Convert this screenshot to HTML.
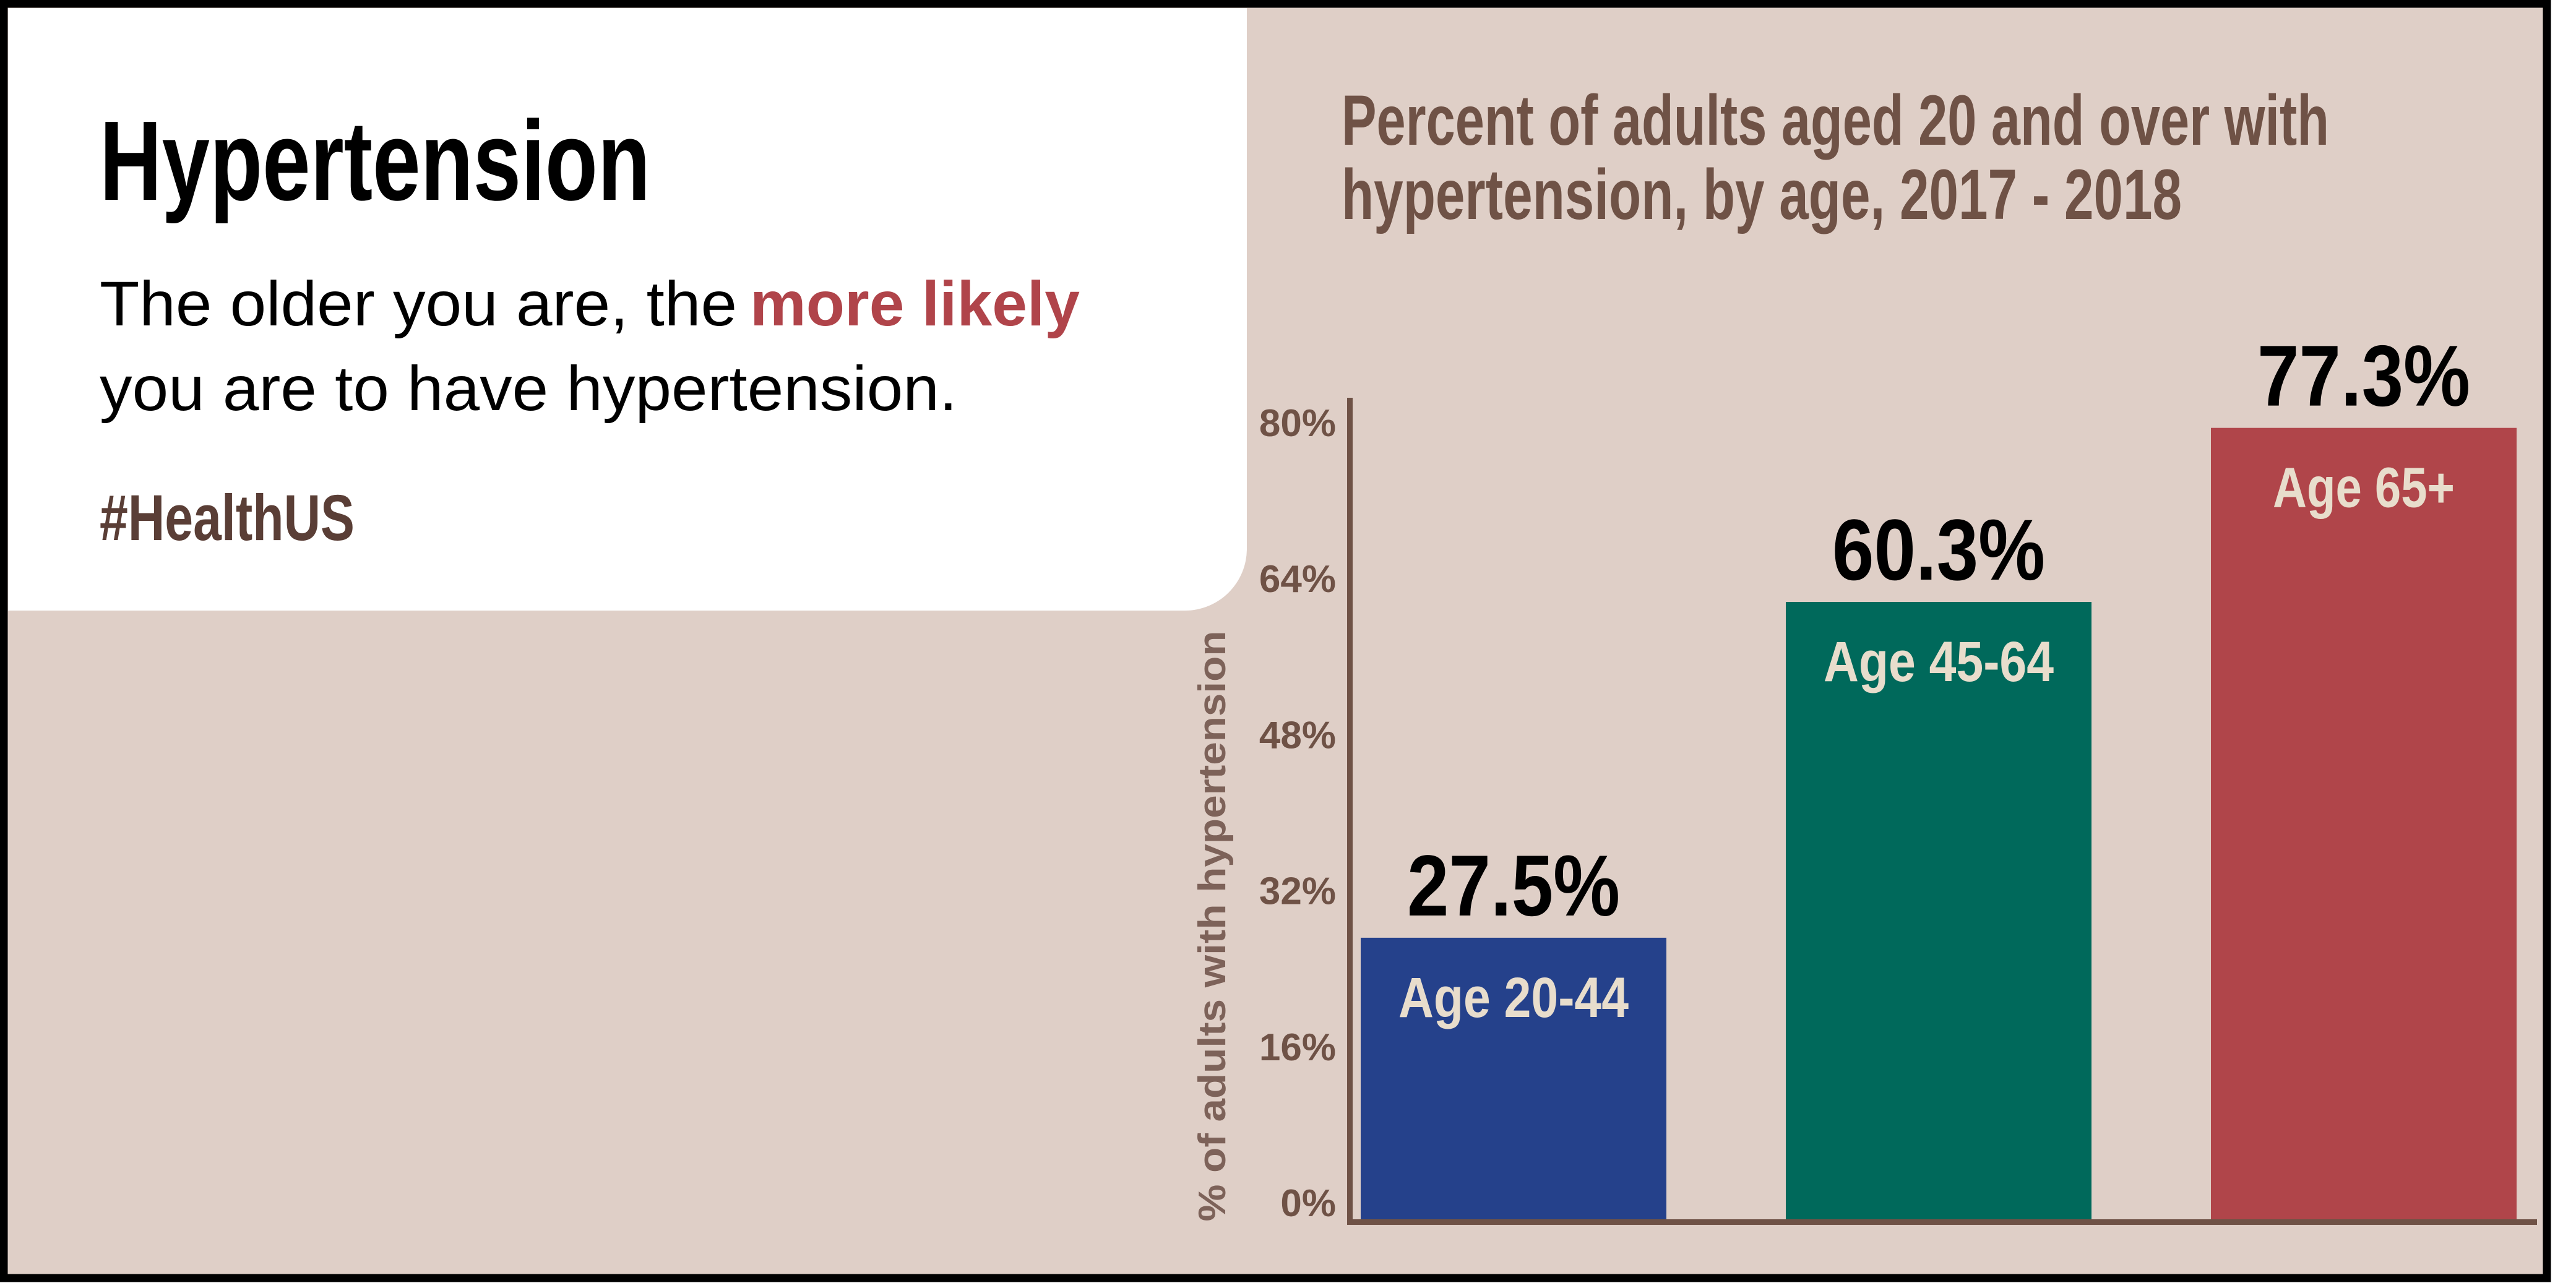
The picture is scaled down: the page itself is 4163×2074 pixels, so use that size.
<!DOCTYPE html>
<html><head><meta charset="utf-8"><style>
html,body{margin:0;padding:0;background:#fff}
svg{display:block}
text{font-family:"Liberation Sans",sans-serif}
</style></head><body>
<svg id="s" width="4163" height="2074" viewBox="0 0 4163 2074" xmlns="http://www.w3.org/2000/svg">
<rect x="0" y="0" width="4163" height="2074" fill="#fff"/>
<rect x="6" y="6" width="4110" height="2060" fill="#dfcfc7" stroke="#000" stroke-width="13"/>
<path d="M13 13 H2015 V887 A100 100 0 0 1 1915 987 H13 Z" fill="#fff"/>
<text x="161" y="323" font-size="183" font-weight="bold" fill="#000" textLength="890" lengthAdjust="spacingAndGlyphs">Hypertension</text>
<text x="161" y="526" font-size="102" fill="#000" textLength="1030" lengthAdjust="spacingAndGlyphs">The older you are, the</text>
<text x="1212" y="526" font-size="102" font-weight="bold" fill="#b0444a" textLength="533" lengthAdjust="spacingAndGlyphs">more likely</text>
<text x="161" y="663" font-size="102" fill="#000" textLength="1386" lengthAdjust="spacingAndGlyphs">you are to have hypertension.</text>
<text x="161" y="873" font-size="105" font-weight="bold" fill="#5a3e36" textLength="412" lengthAdjust="spacingAndGlyphs">#HealthUS</text>
<text x="2168" y="234" font-size="115" font-weight="bold" fill="#6f5246" textLength="1596" lengthAdjust="spacingAndGlyphs">Percent of adults aged 20 and over with</text>
<text x="2168" y="354" font-size="115" font-weight="bold" fill="#6f5246" textLength="1358" lengthAdjust="spacingAndGlyphs">hypertension, by age, 2017 - 2018</text>
<text transform="translate(1980,1497) rotate(-90)" text-anchor="middle" font-size="62" font-weight="bold" fill="#7d6259" textLength="955" lengthAdjust="spacingAndGlyphs">% of adults with hypertension</text>
<g id="chart"></g>
</svg>
<script>
const categories = ["Age 20-44", "Age 45-64", "Age 65+"];
const values = [27.5, 60.3, 77.3];
const valueLabels = ["27.5%", "60.3%", "77.3%"];
const barColors = ["#25418b", "#00695b", "#b0454a"];
const tickValues = [0, 16, 32, 48, 64, 80];
const tickLabels = ["0%", "16%", "32%", "48%", "64%", "80%"];

const NS = "http://www.w3.org/2000/svg";
const g = document.getElementById("chart");
const baseY = 1971, pxPer = 16.55;
const y = v => baseY - v * pxPer;
const tickY = v => 1966 - v * (1261 / 80);
const barX = i => 2199 + i * 687, barW = 494;
function mk(tag, attrs, txt) {
  const e = document.createElementNS(NS, tag);
  for (const k in attrs) e.setAttribute(k, attrs[k]);
  if (txt !== undefined) e.textContent = txt;
  g.appendChild(e);
  return e;
}
values.forEach((v, i) => {
  const r = mk("rect", {x: barX(i), y: y(v), width: barW, height: baseY - y(v), fill: barColors[i]});
  
  
  const cx = barX(i) + barW / 2;
  const t = mk("text", {x: cx, y: y(v) - 36, "text-anchor": "middle", "font-size": 140, "font-weight": "bold", fill: "#000", textLength: 344, lengthAdjust: "spacingAndGlyphs"}, valueLabels[i]);
  
  
  const cl = categories[i];
  const w = cl.length > 7 ? 372 : 294;
  const c = mk("text", {x: cx, y: y(v) + 128, "text-anchor": "middle", "font-size": 92, "font-weight": "bold", fill: "#e8ddcc", textLength: w, lengthAdjust: "spacingAndGlyphs"}, cl);
  
  
});
tickValues.forEach((v, i) => {
  const t = mk("text", {x: 2159, y: tickY(v), "text-anchor": "end", "font-size": 62, "font-weight": "bold", fill: "#6f5246"}, tickLabels[i]);
  
  
});
const ya = mk("rect", {x: 2177, y: 643, width: 9, height: 1337, fill: "#6f5246"});


const xa = mk("rect", {x: 2177, y: 1971, width: 1923, height: 9, fill: "#6f5246"});


</script>
</body></html>
